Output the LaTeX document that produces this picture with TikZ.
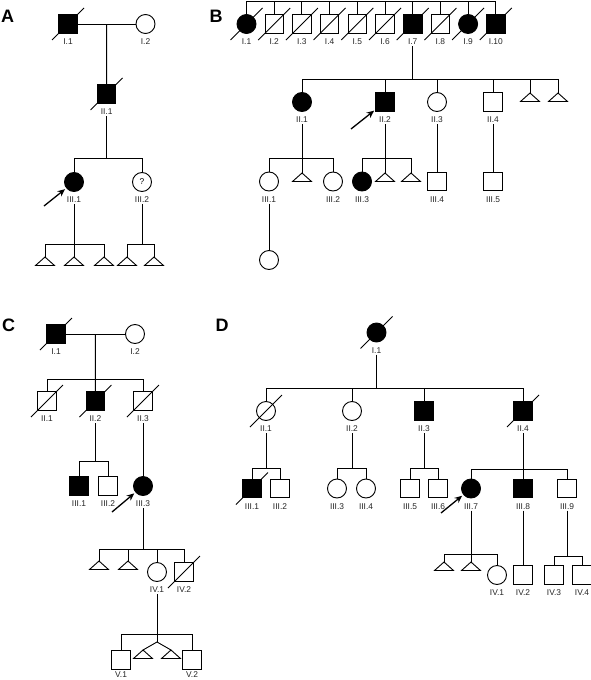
\documentclass[tikz,border=0pt]{standalone}
\usepackage{fontspec}
\setmainfont{Liberation Sans}
\usetikzlibrary{calc,arrows.meta}
\newcommand{\ind}[5]{\node[#4] (#1) at (#2,#3) {}; \node[lab] (#1l) at (#2,#3+18) {#5};}
\newcommand{\indb}[6]{\node[#4] (#1) at (#2,#3) {}; \node[lab] (#1l) at (#2,#3+#6) {#5};}
\newcommand{\dec}[1]{\draw[lw] ([shift={(-16,16)}]#1.center) -- ([shift={(16,-16)}]#1.center);}
\newcommand{\ptri}[3]{\coordinate (#1) at (#2,#3); \draw[lw] (#1) -- ++(-9.5,8.5) -- ++(19,0) -- cycle;}
\begin{document}
\begin{tikzpicture}[x=1pt,y=-1pt,
  lw/.style={line width=0.9pt},
  sq/.style={draw,lw,rectangle,minimum size=18.5pt,inner sep=0pt,fill=white},
  ci/.style={draw,lw,circle,minimum size=19pt,inner sep=0pt,fill=white},
  aff/.style={fill=black},
  lab/.style={font=\fontsize{8.4}{9}\selectfont,text=black!85,inner sep=1pt},
  plet/.style={font=\fontsize{18}{18}\selectfont\bfseries},
  parrow/.style={line width=1.3pt,-{Stealth[length=7.5pt,width=6.5pt]},shorten >=1.5pt},
  conn/.style={lw}]
\useasboundingbox (0,0) rectangle (591,680);
% panel letters
\node[plet] (LA) at (7.5,16) {A};
\node[plet] (LB) at (216,16) {B};
\node[plet] (LC) at (8.5,325) {C};
\node[plet] (LD) at (222,325) {D};
% ================= Panel A
\ind{aI1}{68}{24}{sq,aff}{I.1} \dec{aI1}
\ind{aI2}{145.5}{24}{ci}{I.2}
\draw[conn] (aI1.east) -- (aI2.west);
\coordinate (aM1) at ($(aI1.east)!.5!(aI2.west)$);
\ind{aII1}{106.6}{94}{sq,aff}{II.1} \dec{aII1}
\draw[conn] (aM1) -- (aII1.north);
\coordinate (aS2) at (106.6,158);
\ind{aIII1}{74}{182}{ci,aff}{III.1}
\ind{aIII2}{142}{182}{ci}{III.2}
\node[lab,text=black] (aq) at (aIII2) {?};
\draw[conn] (aII1l.south) -- (aS2);
\draw[conn] (aIII1.north) -- (aIII1.north |- aS2) -- (aIII2.north |- aS2) -- (aIII2.north);
\coordinate (aA) at (44,206);
\draw[parrow] (aA) -- (aIII1);
\ptri{aT1}{45}{257} \ptri{aT2}{74}{257} \ptri{aT3}{104}{257}
\draw[conn] (aIII1l.south) -- (aT2);
\draw[conn] (aT1) -- (aT1 |- 0,244) -- (aT3 |- 0,244) -- (aT3);
\ptri{aT4}{127}{257} \ptri{aT5}{154}{257}
\draw[conn] (aIII2l.south) -- (aIII2l.south |- 0,244);
\draw[conn] (aT4) -- (aT4 |- 0,244) -- (aT5 |- 0,244) -- (aT5);
% ================= Panel B
\ind{bI1}{246.5}{24}{ci,aff}{I.1} \dec{bI1}
\ind{bI2}{274.2}{24}{sq}{I.2} \dec{bI2}
\ind{bI3}{301.9}{24}{sq}{I.3} \dec{bI3}
\ind{bI4}{329.6}{24}{sq}{I.4} \dec{bI4}
\ind{bI5}{357.3}{24}{sq}{I.5} \dec{bI5}
\ind{bI6}{385}{24}{sq}{I.6} \dec{bI6}
\ind{bI7}{412.7}{24}{sq,aff}{I.7} \dec{bI7}
\ind{bI8}{440.4}{24}{sq}{I.8} \dec{bI8}
\ind{bI9}{468.1}{24}{ci,aff}{I.9} \dec{bI9}
\ind{bI10}{495.8}{24}{sq,aff}{I.10} \dec{bI10}
\coordinate (bTop) at (0,1);
\foreach \k in {1,...,10} \draw[conn] (bI\k.north) -- (bI\k.north |- bTop);
\draw[conn] (bI1.north |- bTop) -- (bI10.north |- bTop);
\coordinate (bS1) at (412.7,79);
\draw[conn] (bI7l.south) -- (bS1);
\ind{bII1}{302}{102}{ci,aff}{II.1}
\ind{bII2}{385}{102}{sq,aff}{II.2}
\ind{bII3}{437}{102}{ci}{II.3}
\ind{bII4}{493}{102}{sq}{II.4}
\ptri{bT1}{530}{93} \ptri{bT2}{558}{93}
\draw[conn] (bII1.north) -- (bII1.north |- bS1) -- (bT2 |- bS1) -- (bT2);
\draw[conn] (bII2.north) -- (bII2.north |- bS1);
\draw[conn] (bII3.north) -- (bII3.north |- bS1);
\draw[conn] (bII4.north) -- (bII4.north |- bS1);
\draw[conn] (bT1) -- (bT1 |- bS1);
\coordinate (bA) at (351,129);
\draw[parrow] (bA) -- (bII2);
\ind{bIII1}{269}{181.5}{ci}{III.1}
\ptri{bT3}{302}{173}
\ind{bIII2}{333}{181.5}{ci}{III.2}
\draw[conn] (bII1l.south) -- (bT3);
\draw[conn] (bIII1.north) -- (bIII1.north |- 0,158) -- (bIII2.north |- 0,158) -- (bIII2.north);
\ind{bIII3}{362}{181.5}{ci,aff}{III.3}
\ptri{bT4}{385}{173} \ptri{bT5}{411}{173}
\draw[conn] (bII2l.south) -- (bT4);
\draw[conn] (bIII3.north) -- (bIII3.north |- 0,158) -- (bT5 |- 0,158) -- (bT5);
\ind{bIII4}{437}{181.5}{sq}{III.4}
\draw[conn] (bII3l.south) -- (bIII4.north);
\ind{bIII5}{493}{181.5}{sq}{III.5}
\draw[conn] (bII4l.south) -- (bIII5.north);
\node[ci] (bIV1) at (269,260) {};
\draw[conn] (bIII1l.south) -- (bIV1.north);
% ================= Panel C
\ind{cI1}{56}{334}{sq,aff}{I.1} \dec{cI1}
\ind{cI2}{135}{334}{ci}{I.2}
\draw[conn] (cI1.east) -- (cI2.west);
\coordinate (cM1) at ($(cI1.east)!.5!(cI2.west)$);
\ind{cII1}{47}{401}{sq}{II.1} \dec{cII1}
\ind{cII2}{95.4}{401}{sq,aff}{II.2} \dec{cII2}
\ind{cII3}{143}{401}{sq}{II.3} \dec{cII3}
\draw[conn] (cM1) -- (cII2.north);
\draw[conn] (cII1.north) -- (cII1.north |- 0,379) -- (cII3.north |- 0,379) -- (cII3.north);
\ind{cIII1}{79}{486}{sq,aff}{III.1}
\ind{cIII2}{108}{486}{sq}{III.2}
\draw[conn] (cII2l.south) -- (cII2l.south |- 0,461);
\draw[conn] (cIII1.north) -- (cIII1.north |- 0,461) -- (cIII2.north |- 0,461) -- (cIII2.north);
\ind{cIII3}{143}{486}{ci,aff}{III.3}
\draw[conn] (cII3l.south) -- (cIII3.north);
\coordinate (cA) at (112,512);
\draw[parrow] (cA) -- (cIII3);
\ptri{cT1}{99}{561} \ptri{cT2}{128}{561}
\ind{cIV1}{157}{572}{ci}{IV.1}
\ind{cIV2}{184}{572}{sq}{IV.2} \dec{cIV2}
\draw[conn] (cIII3l.south) -- (cIII3l.south |- 0,549);
\draw[conn] (cT1) -- (cT1 |- 0,549) -- (cIV2.north |- 0,549) -- (cIV2.north);
\draw[conn] (cT2) -- (cT2 |- 0,549);
\draw[conn] (cIV1.north) -- (cIV1.north |- 0,549);
\indb{cV1}{121}{660}{sq}{V.1}{15}
\indb{cV2}{192}{660}{sq}{V.2}{15}
\coordinate (cTw) at (157,642);
\ptri{cT3}{143}{650} \ptri{cT4}{171}{650}
\draw[conn] (cIV1l.south) -- (cTw);
\draw[conn] (cT3) -- (cTw) -- (cT4);
\draw[conn] (cV1.north) -- (cV1.north |- 0,634) -- (cV2.north |- 0,634) -- (cV2.north);
% ================= Panel D
\ind{dI1}{376.5}{332.5}{ci,aff}{I.1} \dec{dI1}
\coordinate (dS1) at (376.5,388);
\draw[conn] (dI1l.south) -- (dS1);
\ind{dII1}{266}{411}{ci}{II.1} \dec{dII1}
\ind{dII2}{352}{411}{ci}{II.2}
\ind{dII3}{424}{411}{sq,aff}{II.3}
\ind{dII4}{523}{411}{sq,aff}{II.4} \dec{dII4}
\draw[conn] (dII1.north) -- (dII1.north |- dS1) -- (dII4.north |- dS1) -- (dII4.north);
\draw[conn] (dII2.north) -- (dII2.north |- dS1);
\draw[conn] (dII3.north) -- (dII3.north |- dS1);
\ind{dIII1}{252}{488.5}{sq,aff}{III.1} \dec{dIII1}
\ind{dIII2}{280}{488.5}{sq}{III.2}
\draw[conn] (dII1l.south) -- (dII1l.south |- 0,468);
\draw[conn] (dIII1.north) -- (dIII1.north |- 0,468) -- (dIII2.north |- 0,468) -- (dIII2.north);
\ind{dIII3}{337}{488.5}{ci}{III.3}
\ind{dIII4}{366}{488.5}{ci}{III.4}
\draw[conn] (dII2l.south) -- (dII2l.south |- 0,468);
\draw[conn] (dIII3.north) -- (dIII3.north |- 0,468) -- (dIII4.north |- 0,468) -- (dIII4.north);
\ind{dIII5}{410}{488.5}{sq}{III.5}
\ind{dIII6}{438}{488.5}{sq}{III.6}
\draw[conn] (dII3l.south) -- (dII3l.south |- 0,468);
\draw[conn] (dIII5.north) -- (dIII5.north |- 0,468) -- (dIII6.north |- 0,468) -- (dIII6.north);
\ind{dIII7}{471}{488.5}{ci,aff}{III.7}
\ind{dIII8}{523}{488.5}{sq,aff}{III.8}
\ind{dIII9}{567}{488.5}{sq}{III.9}
\draw[conn] (dII4l.south) -- (dIII8.north);
\draw[conn] (dIII7.north) -- (dIII7.north |- 0,469) -- (dIII9.north |- 0,469) -- (dIII9.north);
\coordinate (dA) at (441,513);
\draw[parrow] (dA) -- (dIII7);
\ptri{dT1}{444}{562} \ptri{dT2}{471}{562}
\ind{dIV1}{497}{575}{ci}{IV.1}
\draw[conn] (dIII7l.south) -- (dT2);
\draw[conn] (dT1) -- (dT1 |- 0,554) -- (dIV1.north |- 0,554) -- (dIV1.north);
\ind{dIV2}{523}{575}{sq}{IV.2}
\draw[conn] (dIII8l.south) -- (dIV2.north);
\ind{dIV3}{554}{575}{sq}{IV.3}
\ind{dIV4}{582}{575}{sq}{IV.4}
\draw[conn] (dIII9l.south) -- (dIII9l.south |- 0,556);
\draw[conn] (dIV3.north) -- (dIV3.north |- 0,556) -- (dIV4.north |- 0,556) -- (dIV4.north);
\end{tikzpicture}
\end{document}
